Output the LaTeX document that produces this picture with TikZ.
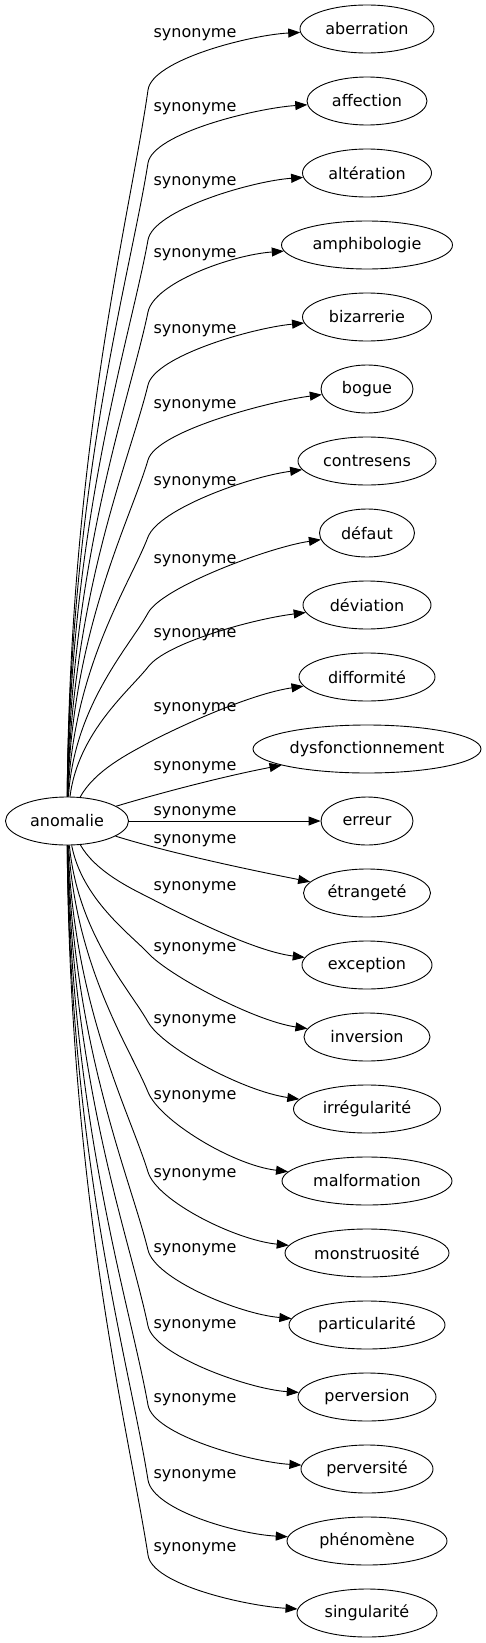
\documentclass[tikz,border=0pt]{standalone}
\usepackage{fontspec}
\setmainfont{DejaVu Sans}
\usetikzlibrary{arrows.meta,shapes.geometric,calc}

\begin{document}
\begin{tikzpicture}[x=1pt, y=-1pt,
    word/.style={ellipse, draw, line width=0.9pt, minimum height=48pt, inner sep=0pt, font={\fontsize{16pt}{19pt}\selectfont}},
    edgelabel/.style={anchor=base, inner sep=0pt, font={\fontsize{16pt}{19pt}\selectfont}},
    edge/.style={line width=0.9pt, -{Triangle[length=12pt,width=9pt]}}]
    \useasboundingbox (0,0) rectangle (486,1643);

    % Central word
    \node[word, minimum width=123pt] (anomalie) at (67,821) {anomalie};

    % Synonyms
    \node[word, minimum width=134pt] (aberration) at (367,29) {aberration};
    \node[word, minimum width=120pt] (affection) at (367,101) {affection};
    \node[word, minimum width=129pt] (alteration) at (367,173) {altération};
    \node[word, minimum width=171pt] (amphibologie) at (367,245) {amphibologie};
    \node[word, minimum width=129pt] (bizarrerie) at (367,317) {bizarrerie};
    \node[word, minimum width=92pt] (bogue) at (367,389) {bogue};
    \node[word, minimum width=138pt] (contresens) at (367,461) {contresens};
    \node[word, minimum width=95pt] (defaut) at (367,533) {défaut};
    \node[word, minimum width=128pt] (deviation) at (367,605) {déviation};
    \node[word, minimum width=136pt] (difformite) at (367,677) {difformité};
    \node[word, minimum width=228pt] (dysfonctionnement) at (367,749) {dysfonctionnement};
    \node[word, minimum width=92pt] (erreur) at (367,821) {erreur};
    \node[word, minimum width=127pt] (etrangete) at (367,893) {étrangeté};
    \node[word, minimum width=130pt] (exception) at (367,965) {exception};
    \node[word, minimum width=126pt] (inversion) at (367,1037) {inversion};
    \node[word, minimum width=147pt] (irregularite) at (367,1109) {irrégularité};
    \node[word, minimum width=170pt] (malformation) at (367,1181) {malformation};
    \node[word, minimum width=164pt] (monstruosite) at (367,1253) {monstruosité};
    \node[word, minimum width=156pt] (particularite) at (367,1325) {particularité};
    \node[word, minimum width=138pt] (perversion) at (367,1397) {perversion};
    \node[word, minimum width=132pt] (perversite) at (367,1469) {perversité};
    \node[word, minimum width=160pt] (phenomene) at (367,1541) {phénomène};
    \node[word, minimum width=140pt] (singularite) at (367,1613) {singularité};

    % Edge labels
    \node[edgelabel] (lab1) at (195,38) {synonyme};
    \node[edgelabel] (lab2) at (195,112) {synonyme};
    \node[edgelabel] (lab3) at (195,185) {synonyme};
    \node[edgelabel] (lab4) at (195,257) {synonyme};
    \node[edgelabel] (lab5) at (195,333) {synonyme};
    \node[edgelabel] (lab6) at (195,408) {synonyme};
    \node[edgelabel] (lab7) at (195,485) {synonyme};
    \node[edgelabel] (lab8) at (195,563) {synonyme};
    \node[edgelabel] (lab9) at (195,637) {synonyme};
    \node[edgelabel] (lab10) at (195,711) {synonyme};
    \node[edgelabel] (lab11) at (195,770) {synonyme};
    \node[edgelabel] (lab12) at (195,815) {synonyme};
    \node[edgelabel] (lab13) at (195,843) {synonyme};
    \node[edgelabel] (lab14) at (195,890) {synonyme};
    \node[edgelabel] (lab15) at (195,951) {synonyme};
    \node[edgelabel] (lab16) at (195,1023) {synonyme};
    \node[edgelabel] (lab17) at (195,1099) {synonyme};
    \node[edgelabel] (lab18) at (195,1177) {synonyme};
    \node[edgelabel] (lab19) at (195,1252) {synonyme};
    \node[edgelabel] (lab20) at (195,1328) {synonyme};
    \node[edgelabel] (lab21) at (195,1402) {synonyme};
    \node[edgelabel] (lab22) at (195,1478) {synonyme};
    \node[edgelabel] (lab23) at (195,1551) {synonyme};

    % Edges going up
    \draw[edge] (anomalie) .. controls (70,444) and (130,217) .. (148,90) .. controls (152,60) and (250,35) .. (aberration);
    \draw[edge] (anomalie) .. controls (70,480) and (130,277) .. (148,163) .. controls (153,133) and (257,108) .. (affection);
    \draw[edge] (anomalie) .. controls (70,519) and (130,340) .. (148,240) .. controls (153,210) and (252,181) .. (alteration);
    \draw[edge] (anomalie) .. controls (71,555) and (130,399) .. (148,312) .. controls (154,283) and (231,255) .. (amphibologie);
    \draw[edge] (anomalie) .. controls (72,591) and (130,459) .. (148,385) .. controls (155,356) and (252,328) .. (bizarrerie);
    \draw[edge] (anomalie) .. controls (72,629) and (130,521) .. (148,460) .. controls (156,431) and (271,401) .. (bogue);
    \draw[edge] (anomalie) .. controls (73,667) and (130,584) .. (148,537) .. controls (159,509) and (248,477) .. (contresens);
    \draw[edge] (anomalie) .. controls (74,705) and (130,646) .. (148,613) .. controls (162,587) and (270,547) .. (defaut);
    \draw[edge] (anomalie) .. controls (78,732) and (130,690) .. (148,667) .. controls (166,643) and (253,619) .. (deviation);
    \draw[edge] (anomalie) .. controls (95,770) and (130,753) .. (148,743) .. controls (174,729) and (249,694) .. (difformite);
    \draw[edge] (anomalie) .. controls (160,793) and (225,776) .. (dysfonctionnement);

    % Straight across
    \draw[edge] (anomalie) -- (erreur);

    % Edges going down
    \draw[edge] (anomalie) .. controls (160,850) and (230,866) .. (etrangete);
    \draw[edge] (anomalie) .. controls (95,871) and (130,888) .. (148,897) .. controls (175,911) and (252,951) .. (exception);
    \draw[edge] (anomalie) .. controls (82,899) and (130,934) .. (148,953) .. controls (168,975) and (254,1021) .. (inversion);
    \draw[edge] (anomalie) .. controls (78,934) and (130,990) .. (148,1022) .. controls (163,1048) and (243,1091) .. (irregularite);
    \draw[edge] (anomalie) .. controls (76,969) and (130,1048) .. (148,1092) .. controls (159,1120) and (232,1165) .. (malformation);
    \draw[edge] (anomalie) .. controls (74,1009) and (130,1113) .. (148,1172) .. controls (157,1201) and (235,1240) .. (monstruosite);
    \draw[edge] (anomalie) .. controls (73,1048) and (130,1177) .. (148,1250) .. controls (155,1279) and (239,1314) .. (particularite);
    \draw[edge] (anomalie) .. controls (72,1086) and (130,1239) .. (148,1326) .. controls (154,1355) and (248,1389) .. (perversion);
    \draw[edge] (anomalie) .. controls (71,1125) and (130,1304) .. (148,1405) .. controls (153,1435) and (251,1462) .. (perversite);
    \draw[edge] (anomalie) .. controls (70,1163) and (130,1366) .. (148,1480) .. controls (153,1510) and (237,1534) .. (phenomene);
    \draw[edge] (anomalie) .. controls (70,1200) and (128,1427) .. (148,1555) .. controls (152,1585) and (247,1606) .. (singularite);
\end{tikzpicture}
\end{document}
